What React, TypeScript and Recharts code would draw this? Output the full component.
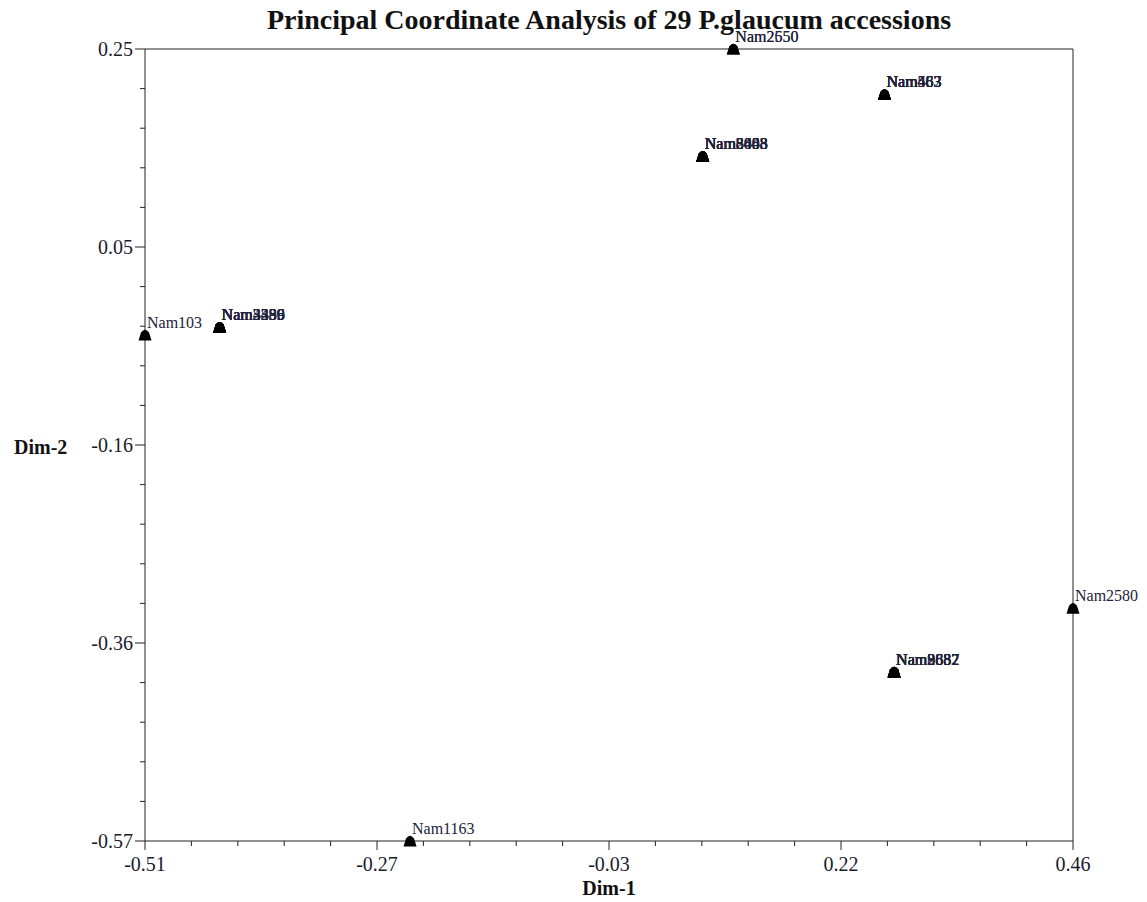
import React from 'react';
import { ScatterChart, Scatter, XAxis, YAxis, ReferenceLine } from 'recharts';

// accession names, grouped by the coordinate they share
const names = [
  'Nam2650', 'Nam2550',
  'Nam463', 'Nam483', 'Nam453', 'Nam563', 'Nam467', 'Nam583',
  'Nam8088', 'Nam3448', 'Nam6603', 'Nam2458', 'Nam5408', 'Nam8883',
  'Nam3386', 'Nam4439', 'Nam2259', 'Nam3336', 'Nam5596', 'Nam3489',
  'Nam9882', 'Nam2687', 'Nam3882', 'Nam9557', 'Nam2832', 'Nam8687',
  'Nam103', 'Nam1163', 'Nam2580',
];

const dim1 = [
  0.105, 0.105,
  0.263, 0.263, 0.263, 0.263, 0.263, 0.263,
  0.073, 0.073, 0.073, 0.073, 0.073, 0.073,
  -0.432, -0.432, -0.432, -0.432, -0.432, -0.432,
  0.273, 0.273, 0.273, 0.273, 0.273, 0.273,
  -0.51, -0.233, 0.46,
];

const dim2 = [
  0.25, 0.25,
  0.203, 0.203, 0.203, 0.203, 0.203, 0.203,
  0.139, 0.139, 0.139, 0.139, 0.139, 0.139,
  -0.038, -0.038, -0.038, -0.038, -0.038, -0.038,
  -0.395, -0.395, -0.395, -0.395, -0.395, -0.395,
  -0.046, -0.57, -0.329,
];

const xTickLabels = ['-0.51', '-0.27', '-0.03', '0.22', '0.46'];
const yTickLabels = ['-0.57', '-0.36', '-0.16', '0.05', '0.25'];

const X_DOMAIN: [number, number] = [-0.51, 0.46];
const Y_DOMAIN: [number, number] = [-0.57, 0.25];

const AXIS = '#222';
const FONT = '"Liberation Serif", "Times New Roman", serif';

// 4 major intervals, each split in 5 minor steps
const tickSteps = (d: [number, number]) =>
  Array.from({ length: 21 }, (_, i) => d[0] + (i * (d[1] - d[0])) / 20);

const stepIndex = (v: number, d: [number, number]) =>
  Math.round((v - d[0]) / ((d[1] - d[0]) / 20));

const XTick = (props: any) => {
  const { x, y, payload } = props;
  const i = stepIndex(payload.value, X_DOMAIN);
  const major = i % 5 === 0;
  return (
    <g>
      <line x1={x} x2={x} y1={y} y2={y + (major ? 9 : 5)} stroke={AXIS} />
      {major && (
        <text x={x} y={y + 30} textAnchor="middle" fontSize={20} fontFamily={FONT} fill="#1a1a2e">
          {xTickLabels[i / 5]}
        </text>
      )}
    </g>
  );
};

const YTick = (props: any) => {
  const { x, y, payload } = props;
  const i = stepIndex(payload.value, Y_DOMAIN);
  const major = i % 5 === 0;
  return (
    <g>
      <line x1={x - (major ? 10 : 5)} x2={x} y1={y} y2={y} stroke={AXIS} />
      {major && (
        <text x={x - 12} y={y + 7} textAnchor="end" fontSize={20} fontFamily={FONT} fill="#1a1a2e">
          {yTickLabels[i / 5]}
        </text>
      )}
    </g>
  );
};

const Marker = (props: any) => {
  const { cx, cy, payload } = props;
  return (
    <g>
      <path
        d={`M${cx - 6.5},${cy + 5.5} L${cx - 4},${cy - 2.5} Q${cx},${cy - 8} ${cx + 4},${cy - 2.5} L${cx + 6.5},${cy + 5.5} Z`}
        fill="#000"
      />
      <text x={cx + 2} y={cy - 7} fontSize={16} fontFamily={FONT} fill="#22223a">
        {payload.name}
      </text>
    </g>
  );
};

const points = names.map((name, i) => ({ name, x: dim1[i], y: dim2[i] }));

export default function App() {
  return (
    <div style={{ position: 'absolute', left: 0, top: 0, width: 1147, height: 902, background: '#fff', fontFamily: FONT }}>
      <div
        style={{
          position: 'absolute', left: 109, width: 1000, top: 4, textAlign: 'center',
          fontSize: 28, lineHeight: '32px', fontWeight: 'bold', color: '#111',
        }}
      >
        Principal Coordinate Analysis of 29 P.glaucum accessions
      </div>
      <div
        style={{
          position: 'absolute', left: 509, width: 200, top: 876, textAlign: 'center',
          fontSize: 20, lineHeight: '24px', fontWeight: 'bold', color: '#111',
        }}
      >
        Dim-1
      </div>
      <div
        style={{
          position: 'absolute', left: 14, top: 435,
          fontSize: 20, lineHeight: '24px', fontWeight: 'bold', color: '#111',
        }}
      >
        Dim-2
      </div>
      <ScatterChart width={1147} height={902} margin={{ top: 49, right: 74, bottom: 11, left: 65 }}>
        <XAxis
          type="number"
          dataKey="x"
          domain={X_DOMAIN}
          ticks={tickSteps(X_DOMAIN)}
          interval={0}
          height={50}
          tickSize={0}
          tickMargin={0}
          tickLine={false}
          axisLine={{ stroke: AXIS }}
          tick={<XTick />}
        />
        <YAxis
          type="number"
          dataKey="y"
          domain={Y_DOMAIN}
          ticks={tickSteps(Y_DOMAIN)}
          interval={0}
          width={80}
          tickSize={0}
          tickMargin={0}
          tickLine={false}
          axisLine={{ stroke: AXIS }}
          tick={<YTick />}
        />
        <ReferenceLine y={Y_DOMAIN[1]} stroke={AXIS} />
        <ReferenceLine x={X_DOMAIN[1]} stroke={AXIS} />
        <Scatter data={points} shape={<Marker />} isAnimationActive={false} />
      </ScatterChart>
    </div>
  );
}
